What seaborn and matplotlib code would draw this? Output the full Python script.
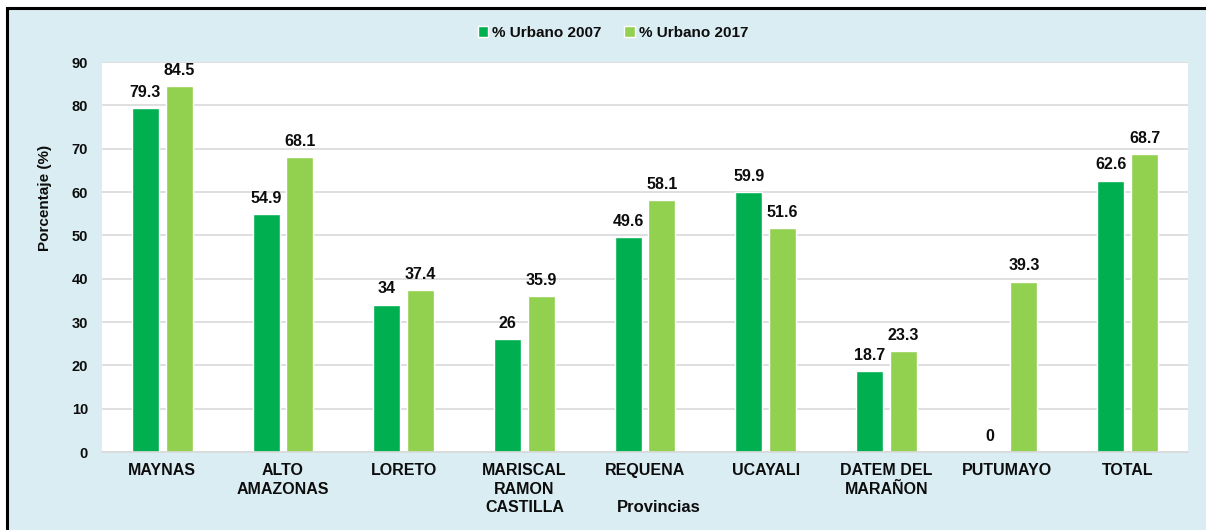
import matplotlib
matplotlib.use("Agg")
import matplotlib.pyplot as plt
import seaborn as sns
import pandas as pd
from matplotlib.patches import Rectangle

provincias = ["MAYNAS", "ALTO\nAMAZONAS", "LORETO", "MARISCAL\nRAMON\nCASTILLA", "REQUENA",
              "UCAYALI", "DATEM DEL\nMARAÑON", "PUTUMAYO", "TOTAL"]
urbano_2007 = [79.3, 54.9, 34, 26, 49.6, 59.9, 18.7, 0, 62.6]
urbano_2017 = [84.5, 68.1, 37.4, 35.9, 58.1, 51.6, 23.3, 39.3, 68.7]
series = ["% Urbano 2007", "% Urbano 2017"]
y_ticks = [0, 10, 20, 30, 40, 50, 60, 70, 80, 90]

colors = ["#00b050", "#92d050"]
bg = "#daedf3"
txt = "#0d0d0d"

df = pd.DataFrame({
    "Provincia": provincias * 2,
    "Serie": [series[0]] * len(provincias) + [series[1]] * len(provincias),
    "Valor": urbano_2007 + urbano_2017,
})

sns.set_theme(style="white")
plt.rcParams["font.family"] = ["Liberation Sans", "DejaVu Sans"]

fig = plt.figure(figsize=(12.06, 5.30), dpi=100, facecolor="white")
fig.patches.append(Rectangle((7 / 1206, -0.1), 1.2, 1.1 - 8 / 530, transform=fig.transFigure,
                             facecolor=bg, edgecolor="black", linewidth=2.2, zorder=-10))

ax = fig.add_axes([102 / 1206, 1 - 452 / 530, (1188 - 102) / 1206, (452 - 62) / 530])
ax.set_facecolor("white")

sns.barplot(data=df, x="Provincia", y="Valor", hue="Serie", palette=colors,
            width=0.56, gap=0.2, ax=ax, legend=True, saturation=1)

ax.set_ylim(0, 90)
ax.set_xlim(-0.5, len(provincias) - 0.5)
ax.set_yticks(y_ticks)
ax.yaxis.grid(True, color="#d9d9d9", linewidth=1.2)
ax.set_axisbelow(True)
for s in ["top", "right", "left"]:
    ax.spines[s].set_visible(False)
ax.spines["bottom"].set_color("#d9d9d9")
ax.spines["bottom"].set_linewidth(1.2)

ax.tick_params(axis="y", length=0, pad=10, labelsize=10.5)
ax.tick_params(axis="x", length=0, pad=8, labelsize=11.5)
for lab in ax.get_yticklabels() + ax.get_xticklabels():
    lab.set_fontweight("bold")
    lab.set_color(txt)
for lab in ax.get_xticklabels():
    lab.set_linespacing(1.3)

vals = [urbano_2007, urbano_2017]
for cont, v in zip(ax.containers, vals):
    ax.bar_label(cont, labels=[f"{x:g}" for x in v], padding=6, fontsize=11.5,
                 fontweight="bold", color=txt)

ax.set_ylabel("Porcentaje (%)", fontsize=11, fontweight="bold", color=txt)
ax.yaxis.set_label_coords(-(102 - 52) / 1086, (452 - 198) / 390)
ax.set_xlabel("Provincias", fontsize=12, fontweight="bold", color=txt)
ax.xaxis.set_label_coords((659 - 102) / 1086, -(507 - 452) / 390)
ax.xaxis.label.set_va("center")

handles, labels = ax.get_legend_handles_labels()
ax.get_legend().remove()
leg = fig.legend(handles, labels, loc="center", bbox_to_anchor=(613 / 1206, 1 - 33 / 530),
                 ncol=2, frameon=False, fontsize=11, handlelength=0.7, handleheight=0.7,
                 handletextpad=0.25, columnspacing=1.5)
for t in leg.get_texts():
    t.set_fontweight("bold")
    t.set_color(txt)

fig.savefig("out.png", dpi=100, facecolor="white")
